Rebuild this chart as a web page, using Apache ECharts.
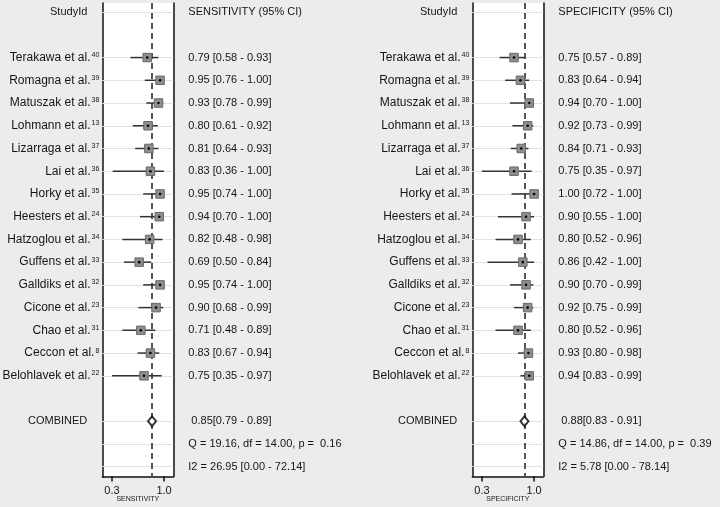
<!DOCTYPE html>
<html>
<head>
<meta charset="utf-8">
<script src="https://cdn.jsdelivr.net/npm/echarts@6/dist/echarts.min.js"></script>
<style>
html,body{margin:0;padding:0;background:#ececec;}
#chart{width:720px;height:507px;}
</style>
</head>
<body>
<div id="chart"></div>
<script>
// ---- data ----
const studies = ['Terakawa et al.', 'Romagna et al.', 'Matuszak et al.', 'Lohmann et al.', 'Lizarraga et al.',
  'Lai et al.', 'Horky et al.', 'Heesters et al.', 'Hatzoglou et al.', 'Guffens et al.', 'Galldiks et al.',
  'Cicone et al.', 'Chao et al.', 'Ceccon et al.', 'Belohlavek et al.'];
const refs = ['40', '39', '38', '13', '37', '36', '35', '24', '34', '33', '32', '23', '31', '8', '22'];

const sensEst = [0.79, 0.95, 0.93, 0.80, 0.81, 0.83, 0.95, 0.94, 0.82, 0.69, 0.95, 0.90, 0.71, 0.83, 0.75];
const sensLo  = [0.58, 0.76, 0.78, 0.61, 0.64, 0.36, 0.74, 0.70, 0.48, 0.50, 0.74, 0.68, 0.48, 0.67, 0.35];
const sensHi  = [0.93, 1.00, 0.99, 0.92, 0.93, 1.00, 1.00, 1.00, 0.98, 0.84, 1.00, 0.99, 0.89, 0.94, 0.97];
const sensPooled = [0.85, 0.79, 0.89];
const sensQ = ['19.16', '14.00', '0.16'];
const sensI2 = ['26.95', '0.00', '72.14'];

const specEst = [0.75, 0.83, 0.94, 0.92, 0.84, 0.75, 1.00, 0.90, 0.80, 0.86, 0.90, 0.92, 0.80, 0.93, 0.94];
const specLo  = [0.57, 0.64, 0.70, 0.73, 0.71, 0.35, 0.72, 0.55, 0.52, 0.42, 0.70, 0.75, 0.52, 0.80, 0.83];
const specHi  = [0.89, 0.94, 1.00, 0.99, 0.93, 0.97, 1.00, 1.00, 0.96, 1.00, 0.99, 0.99, 0.96, 0.98, 0.99];
const specPooled = [0.88, 0.83, 0.91];
const specQ = ['14.86', '14.00', '0.39'];
const specI2 = ['5.78', '0.00', '78.14'];

const tickValues = [0.35, 1.0];
const tickLabels = ['0.3', '1.0'];

// ---- layout rows ----
const ROW_HEADER = 0, ROW_FIRST = 2, ROW_COMB = 18, ROW_Q = 19, ROW_I2 = 20;
const studyRows = studies.map((_, i) => ROW_FIRST + i);
const textRows = [ROW_HEADER].concat(studyRows, [ROW_COMB, ROW_Q, ROW_I2]);

const FONT = '"Liberation Sans", Arial, sans-serif';
const TXT = '#151515';
const f2 = v => v.toFixed(2);

function leftLabel(row) {
  if (row === ROW_HEADER) return '{h|StudyId}';
  if (row === ROW_COMB) return '{h|COMBINED}';
  const i = row - ROW_FIRST;
  if (i >= 0 && i < studies.length) return '{n|' + studies[i] + '}{s|' + refs[i] + '}';
  return '';
}

function makePanel(gi, est, lo, hi, pooled, q, i2, title, axisName) {
  const rightText = row => {
    if (row === ROW_HEADER) return title;
    if (row === ROW_COMB) return ' ' + f2(pooled[0]) + '[' + f2(pooled[1]) + ' - ' + f2(pooled[2]) + ']';
    if (row === ROW_Q) return 'Q = ' + q[0] + ', df = ' + q[1] + ', p =  ' + q[2];
    if (row === ROW_I2) return 'I2 = ' + i2[0] + ' [' + i2[1] + ' - ' + i2[2] + ']';
    const i = row - ROW_FIRST;
    if (i >= 0 && i < est.length) return f2(est[i]) + ' [' + f2(lo[i]) + ' - ' + f2(hi[i]) + ']';
    return '';
  };
  const axLine = {show: true, onZero: false, lineStyle: {color: '#111', width: 1.5}};
  const xAxis = {
    type: 'value', gridIndex: gi, min: 0.23, max: 1.115,
    axisLine: axLine,
    axisTick: {show: true, customValues: tickValues, length: 5, lineStyle: {color: '#111', width: 1.5}},
    axisLabel: {customValues: tickValues, fontSize: 11, color: TXT, margin: 9, fontFamily: FONT,
      formatter: v => { const k = tickValues.findIndex(t => Math.abs(t - v) < 1e-6); return k >= 0 ? tickLabels[k] : ''; }},
    splitLine: {show: false},
    name: axisName, nameLocation: 'middle', nameGap: 19, nameMoveOverlap: false,
    nameTextStyle: {fontSize: 7, color: TXT, fontFamily: FONT}
  };
  const yBase = {type: 'value', gridIndex: gi, inverse: true, min: -0.4, max: 20.43,
    axisLine: axLine, axisTick: {show: false}, splitLine: {show: false}};
  const yLeft = Object.assign({}, yBase, {
    position: 'left',
    axisLabel: {customValues: textRows, margin: 3, formatter: v => leftLabel(Math.round(v)),
      rich: {
        n: {fontSize: 12, color: TXT, fontFamily: FONT},
        s: {fontSize: 7, color: TXT, fontFamily: FONT, verticalAlign: 'top', padding: [0, 0, 0, 1]},
        h: {fontSize: 11, color: TXT, fontFamily: FONT, padding: [0, 12, 0, 0]}
      }}
  });
  const yRight = Object.assign({}, yBase, {
    position: 'right',
    axisLabel: {customValues: textRows, margin: 15, align: 'left', fontSize: 11, color: TXT, fontFamily: FONT,
      formatter: v => rightText(Math.round(v))}
  });

  const ciData = est.map((e, i) => [e, lo[i], hi[i], studyRows[i]]);
  const gridRows = textRows.map(r => ({yAxis: r, lineStyle: {color: '#e3e3e3', width: 1, type: 'solid'}}));
  const series = [
    {
      type: 'scatter', xAxisIndex: gi, yAxisIndex: gi * 2, data: [[pooled[0], ROW_COMB]], symbolSize: 0, z: 1, silent: true,
      markLine: {silent: true, symbol: 'none', label: {show: false}, animation: false, z: 1,
        data: gridRows.concat([{xAxis: pooled[0], lineStyle: {color: '#555', width: 2, type: [6, 4]}}])}
    },
    {
      type: 'custom', xAxisIndex: gi, yAxisIndex: gi * 2, z: 10, silent: true,
      encode: {x: [0, 1, 2], y: 3},
      data: ciData,
      renderItem: (params, api) => {
        const row = api.value(3);
        const pl = api.coord([api.value(1), row]);
        const ph = api.coord([api.value(2), row]);
        const pe = api.coord([api.value(0), row]);
        const s = 8.5;
        return {type: 'group', children: [
          {type: 'line', shape: {x1: pl[0], y1: pl[1], x2: ph[0], y2: ph[1]}, style: {stroke: '#333', lineWidth: 1.5}},
          {type: 'rect', shape: {x: pe[0] - s / 2, y: pe[1] - s / 2, width: s, height: s}, style: {fill: '#8e8e8e', stroke: '#6a6a6a', lineWidth: 1}},
          {type: 'circle', shape: {cx: pe[0], cy: pe[1], r: 1.3}, style: {fill: '#000'}}
        ]};
      }
    },
    {
      type: 'scatter', xAxisIndex: gi, yAxisIndex: gi * 2, z: 12, silent: true,
      data: [[pooled[0], ROW_COMB]], symbol: 'diamond', symbolSize: [8, 10],
      itemStyle: {color: '#fff', borderColor: '#000', borderWidth: 2}
    }
  ];
  return {xAxis, yAxes: [yLeft, yRight], series};
}

const p1 = makePanel(0, sensEst, sensLo, sensHi, sensPooled, sensQ, sensI2, 'SENSITIVITY (95% CI)', 'SENSITIVITY');
const p2 = makePanel(1, specEst, specLo, specHi, specPooled, specQ, specI2, 'SPECIFICITY (95% CI)', 'SPECIFICITY');

const chart = echarts.init(document.getElementById('chart'), null, {renderer: 'canvas'});
chart.setOption({
  animation: false,
  backgroundColor: '#ececec',
  textStyle: {fontFamily: FONT},
  grid: [
    {left: 102.3, width: 71, top: 3, height: 473.5, show: true, backgroundColor: '#fff', borderWidth: 0, outerBoundsMode: 'none', containLabel: false},
    {left: 472.3, width: 71, top: 3, height: 473.5, show: true, backgroundColor: '#fff', borderWidth: 0, outerBoundsMode: 'none', containLabel: false}
  ],
  xAxis: [p1.xAxis, p2.xAxis],
  yAxis: [p1.yAxes[0], p1.yAxes[1], p2.yAxes[0], p2.yAxes[1]],
  series: p1.series.concat(p2.series)
});
</script>
</body>
</html>
